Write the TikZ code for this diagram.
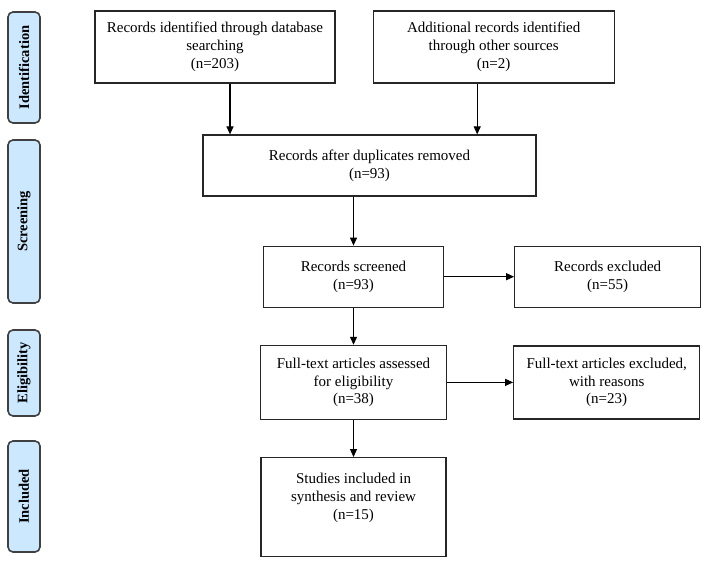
\documentclass[tikz,border=0pt]{standalone}
\usepackage{fontspec}
\setmainfont{Liberation Serif}
\usetikzlibrary{positioning,arrows.meta}

\definecolor{stageblue}{RGB}{204,232,255}

\begin{document}
\begin{tikzpicture}[x=1pt, y=1pt,
	prbox/.style={rectangle, draw=black!85, line width=1.2pt, align=center, inner sep=2pt, font=\fontsize{15}{17.7}\selectfont},
	stagebox/.style={rectangle, rounded corners=5pt, draw=black!75, line width=1.6pt, fill=stageblue, minimum width=111pt, minimum height=32pt, rotate=90, font=\fontsize{14.5}{17}\selectfont\bfseries},
	arr/.style={line width=1.2pt, -{Triangle[length=8pt, width=7pt]}}]
	\useasboundingbox (0,0) rectangle (708,-569);
	% stages
	\node[stagebox] (ident) at (24,-67.5) {Identification};
	\node[stagebox, minimum width=163pt] (screen) at (24,-221.5) {Screening};
	\node[stagebox, minimum width=86pt] (elig) at (24,-373) {Eligibility};
	\node[stagebox] (incl) at (24,-496.5) {Included};
	% flow
	\node[prbox, minimum width=240pt, minimum height=72pt] (dbase) at (215,-47) {Records identified through database\\searching\\(n=203)};
	\node[prbox, minimum width=241pt, minimum height=72pt] (other) [right=37pt of dbase] {Additional records identified\\through other sources\\(n=2)};
	\node[prbox, minimum width=333pt, minimum height=61pt] (dupl) at (369.5,-165.5) {Records after duplicates removed\\(n=93)};
	\node[prbox, minimum width=180pt, minimum height=61pt] (screened) [below=49pt of dupl, xshift=-16pt] {Records screened\\(n=93)};
	\node[prbox, minimum width=186pt, minimum height=74pt] (fulltext) [below=37pt of screened] {Full-text articles assessed\\for eligibility\\(n=38)};
	\node[prbox, minimum width=185pt, minimum height=99pt, text depth=22pt] (studies) [below=37pt of fulltext] {Studies included in\\synthesis and review\\(n=15)};
	\node[prbox, minimum width=186pt, minimum height=61pt] (excl) [right=70pt of screened] {Records excluded\\(n=55)};
	\node[prbox, minimum width=186pt, minimum height=73pt] (ftexcl) [right=66pt of fulltext] {Full-text articles excluded,\\with reasons\\(n=23)};
	\draw[arr] ([xshift=15pt]dbase.south) -- ([xshift=15pt]dbase.south |- dupl.north);
	\draw[arr] ([xshift=-16.5pt]other.south) -- ([xshift=-16.5pt]other.south |- dupl.north);
	\draw[arr] (screened.north |- dupl.south) -- (screened.north);
	\draw[arr] (screened.south) -- (fulltext.north);
	\draw[arr] (fulltext.south) -- (studies.north);
	\draw[arr] (screened.east) -- (excl.west);
	\draw[arr] (fulltext.east) -- (ftexcl.west);
\end{tikzpicture}
\end{document}
